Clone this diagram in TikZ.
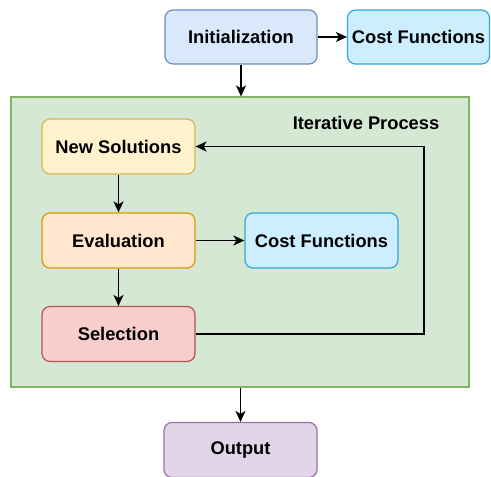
\documentclass[tikz,border=0pt]{standalone}
\usepackage{fontspec}
\setmainfont{Liberation Sans}
\usetikzlibrary{arrows.meta}
\definecolor{initfill}{HTML}{DAE8FC}
\definecolor{initdraw}{HTML}{6C8EBF}
\definecolor{costfill}{HTML}{CCEEFF}
\definecolor{costdraw}{HTML}{2FA8DC}
\definecolor{grpfill}{HTML}{D5E8D4}
\definecolor{grpdraw}{HTML}{82B366}
\definecolor{newfill}{HTML}{FFF2CC}
\definecolor{newdraw}{HTML}{D6B656}
\definecolor{evalfill}{HTML}{FFE6CC}
\definecolor{evaldraw}{HTML}{D79B00}
\definecolor{selfill}{HTML}{F8CECC}
\definecolor{seldraw}{HTML}{B85450}
\definecolor{outfill}{HTML}{E1D5E7}
\definecolor{outdraw}{HTML}{9673A6}
\tikzset{
  box/.style={rounded corners=8pt, line width=1.2pt, minimum width=153pt, minimum height=55pt,
    inner sep=0pt, font=\fontsize{18.3pt}{20pt}\selectfont\bfseries},
  flow/.style={line width=1.5pt, -{Stealth[length=11pt,width=10pt,inset=3pt]}},
}
\begin{document}
\begin{tikzpicture}[x=1pt,y=-1pt]
\useasboundingbox (0,0) rectangle (491,477);
% iterative process group
\node[draw=grpdraw, fill=grpfill, line width=1.2pt, minimum width=458pt, minimum height=290pt,
  inner sep=0pt] (grp) at (240,242) {};
\node[font=\fontsize{18.3pt}{20pt}\selectfont\bfseries] (grplabel) at (366,123) {Iterative Process};
% boxes
\node[box, draw=initdraw, fill=initfill, minimum width=152pt, minimum height=54pt] (init) at (241,37) {Initialization};
\node[box, draw=costdraw, fill=costfill, minimum width=142pt, minimum height=54pt] (costtop) at (418.5,37) {Cost Functions};
\node[box, draw=newdraw, fill=newfill] (new) at (118.5,146.5) {New Solutions};
\node[box, draw=evaldraw, fill=evalfill] (eval) at (118.5,240.5) {Evaluation};
\node[box, draw=costdraw, fill=costfill] (cost) at (321.5,240.5) {Cost Functions};
\node[box, draw=seldraw, fill=selfill] (sel) at (118.5,334) {Selection};
\node[box, draw=outdraw, fill=outfill] (out) at (240.5,450) {Output};
% connectors
\draw[flow] (init) -- (costtop);
\draw[flow] (init.south) -- (init.south |- grp.north);
\draw[flow] (new) -- (eval);
\draw[flow] (eval) -- (sel);
\draw[flow] (eval) -- (cost);
\coordinate (loop) at (424,334);
\draw[flow] (sel.east) -- (loop) |- (new.east);
\draw[flow] (out.north |- grp.south) -- (out.north);
\end{tikzpicture}
\end{document}
